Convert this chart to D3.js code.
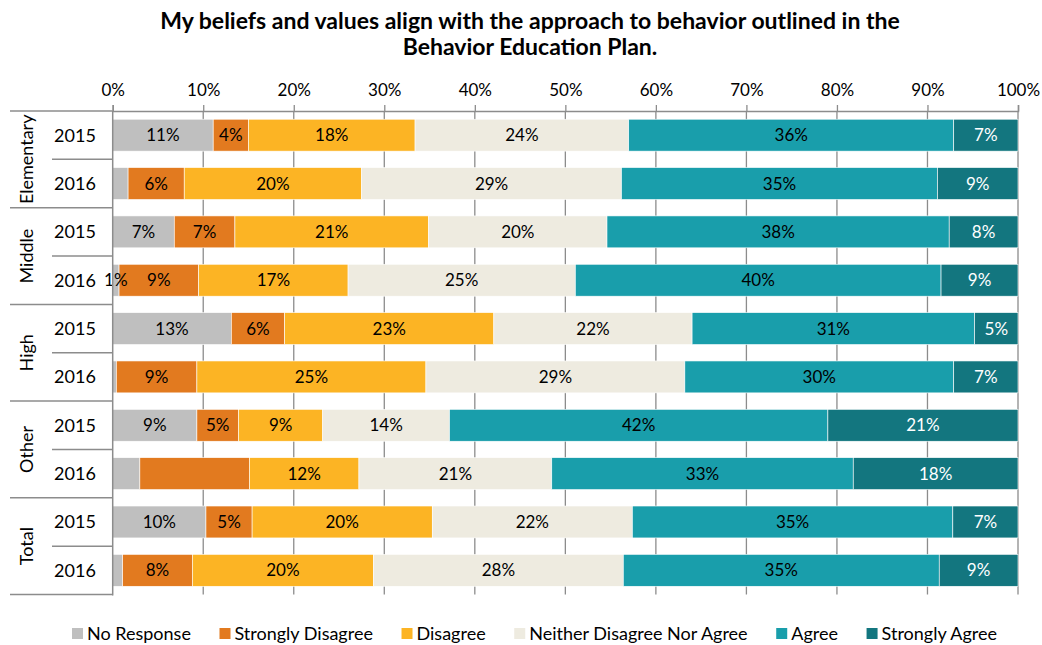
<!DOCTYPE html>
<html lang="en">
<head>
  <meta charset="UTF-8">
  <title>Behavior Education Plan</title>
  <script src="https://d3js.org/d3.v7.min.js"></script>
  <style>
    body { margin: 0; background: #fff; }
    text { font-family: Lato, "Open Sans", sans-serif; fill: #000; }
  </style>
</head>
<body>
<div id="chart"></div>
<script>
// rows: school level x year
const groups = ["Elementary", "Middle", "High", "Other", "Total"];
const years = ["2015", "2016"];
const seriesNames = ["No Response", "Strongly Disagree", "Disagree", "Neither Disagree Nor Agree", "Agree", "Strongly Agree"];
const ticks = ["0%", "10%", "20%", "30%", "40%", "50%", "60%", "70%", "80%", "90%", "100%"];

// percent per row (Elem 15, Elem 16, Middle 15, ... Total 16)
const noResponse       = [11.1, 1.7, 6.8, 0.7, 13.1, 0.4, 9.3, 3.0, 10.3, 1.1];
const stronglyDisagree = [3.9, 6.2, 6.7, 8.8, 5.9, 8.9, 4.6, 12.1, 5.1, 7.7];
const disagree         = [18.4, 19.6, 21.4, 16.5, 23.1, 25.3, 9.3, 12.1, 19.9, 20.0];
const neither          = [23.6, 28.7, 19.7, 25.1, 21.9, 28.6, 14.0, 21.3, 22.1, 27.6];
const agree            = [35.9, 34.9, 37.8, 40.4, 31.2, 29.7, 41.8, 33.3, 35.4, 34.9];
const stronglyAgree    = [7.1, 8.9, 7.6, 8.5, 4.8, 7.1, 21.0, 18.2, 7.2, 8.7];

// labels that the original chart leaves out: [row, series]
const hiddenLabels = [[1, 0], [5, 0], [7, 0], [7, 1], [9, 0]];

const colors = ["#bfbfbf", "#e27a1f", "#fcb424", "#eeebe0", "#199eab", "#13767f"];
const labelColors = ["#000", "#000", "#000", "#000", "#000", "#fff"];

const W = 1042, H = 645;
const x0 = 112.7, x1 = 1018, plotTop = 111, plotBottom = 594.5;

const allSeries = [noResponse, stronglyDisagree, disagree, neither, agree, stronglyAgree];
const rows = [];
groups.forEach((g, gi) => years.forEach((yr, yi) => {
  const i = gi * 2 + yi;
  const r = { key: g + "-" + yr, group: g, year: yr, idx: i };
  seriesNames.forEach((s, si) => r[s] = allSeries[si][i]);
  rows.push(r);
}));

const svg = d3.select("#chart").append("svg")
  .attr("width", W)
  .attr("height", H);

const x = d3.scaleLinear().domain([0, 100]).range([x0, x1]);
const y = d3.scaleBand()
  .domain(rows.map(r => r.key))
  .range([plotTop, plotBottom])
  .paddingInner(0.34)
  .paddingOuter(0.17);

// title, sized so the first line is as wide as in the original
const title1 = svg.append("text")
  .attr("x", 530).attr("y", 29)
  .attr("text-anchor", "middle")
  .style("font-size", "20px").style("font-weight", "bold")
  .text("My beliefs and values align with the approach to behavior outlined in the");
const tSize = Math.min(23, 20 * 751 / title1.node().getComputedTextLength());
title1.style("font-size", tSize + "px");
svg.append("text")
  .attr("x", 530).attr("y", 55)
  .attr("text-anchor", "middle")
  .style("font-size", tSize + "px").style("font-weight", "bold")
  .text("Behavior Education Plan.");

// gridlines
svg.append("g").selectAll("line")
  .data(d3.range(10, 101, 10))
  .join("line")
    .attr("x1", d => x(d)).attr("x2", d => x(d))
    .attr("y1", plotTop).attr("y2", plotBottom)
    .attr("stroke", "#8c8c8c").attr("stroke-width", 1.3);

// top axis
const xAxis = d3.axisTop(x)
  .tickValues(d3.range(0, 101, 10))
  .tickFormat((d, i) => ticks[i])
  .tickSize(6)
  .tickPadding(9);
const xAxisGroup = svg.append("g")
  .attr("transform", `translate(0, ${plotTop})`)
  .call(xAxis);
xAxisGroup.select(".domain").attr("stroke", "#8c8c8c").attr("stroke-width", 1.5);
xAxisGroup.selectAll(".tick line").attr("stroke", "#8c8c8c").attr("stroke-width", 1.3);
xAxisGroup.selectAll(".tick text")
  .style("font-size", "17px")
  .style("font-family", "Lato, 'Open Sans', sans-serif")
  .attr("fill", "#000");

// stacked bars
const stack = d3.stack().keys(seriesNames);
const stacked = stack(rows);

const layers = svg.append("g").selectAll("g")
  .data(stacked)
  .join("g")
    .attr("fill", (d, i) => colors[i]);

layers.selectAll("rect")
  .data(d => d)
  .join("rect")
    .attr("x", d => x(d[0]))
    .attr("width", d => x(d[1]) - x(d[0]))
    .attr("y", d => y(d.data.key))
    .attr("height", y.bandwidth())
    .attr("stroke", "#fff")
    .attr("stroke-width", 0.6);

// segment labels
const isHidden = (ri, si) => hiddenLabels.some(h => h[0] === ri && h[1] === si);
stacked.forEach((layer, si) => {
  svg.append("g").selectAll("text")
    .data(layer.filter(d => !isHidden(d.data.idx, si)))
    .join("text")
      .attr("x", d => x((d[0] + d[1]) / 2))
      .attr("y", d => y(d.data.key) + y.bandwidth() / 2)
      .attr("dy", "0.36em")
      .attr("text-anchor", "middle")
      .style("font-size", "17px")
      .style("fill", labelColors[si])
      .text(d => Math.round(d[1] - d[0]) + "%");
});

// left axis with grouped categories
const left = svg.append("g");
const lineColor = "#8c8c8c";
left.append("line")
  .attr("x1", x0).attr("x2", x0)
  .attr("y1", plotTop).attr("y2", plotBottom + 1)
  .attr("stroke", lineColor).attr("stroke-width", 1.5);

const step = y.step();
const groupTop = gi => plotTop + gi * 2 * step;
// group boundaries
left.selectAll(".gline")
  .data(d3.range(groups.length + 1))
  .join("line")
    .attr("class", "gline")
    .attr("x1", 10).attr("x2", x0)
    .attr("y1", d => groupTop(d)).attr("y2", d => groupTop(d))
    .attr("stroke", lineColor).attr("stroke-width", 1.5);
// year boundaries
left.selectAll(".yline")
  .data(groups)
  .join("line")
    .attr("class", "yline")
    .attr("x1", 52).attr("x2", x0)
    .attr("y1", (d, gi) => groupTop(gi) + step)
    .attr("y2", (d, gi) => groupTop(gi) + step)
    .attr("stroke", lineColor).attr("stroke-width", 1.5);

// year labels
left.selectAll(".ylab")
  .data(rows)
  .join("text")
    .attr("class", "ylab")
    .attr("x", 75)
    .attr("y", d => y(d.key) + y.bandwidth() / 2)
    .attr("dy", "0.36em")
    .attr("text-anchor", "middle")
    .style("font-size", "18px")
    .text(d => d.year);

// group labels (rotated)
left.selectAll(".glab")
  .data(groups)
  .join("text")
    .attr("class", "glab")
    .attr("transform", (d, gi) => `translate(27, ${groupTop(gi) + step}) rotate(-90)`)
    .attr("dy", "0.36em")
    .attr("text-anchor", "middle")
    .style("font-size", "18px")
    .text(d => d);

// legend
const legend = svg.append("g").attr("transform", "translate(0, 634)");
const items = legend.selectAll("g")
  .data(seriesNames)
  .join("g");
items.append("rect")
  .attr("y", -6).attr("width", 11).attr("height", 11)
  .attr("fill", (d, i) => colors[i]);
items.append("text")
  .attr("x", 15)
  .attr("dy", "0.36em")
  .style("font-size", "18px")
  .text(d => d);
let widths = [];
items.each(function() { widths.push(15 + d3.select(this).select("text").node().getComputedTextLength()); });
const gap = 20;
const span = 925;
const extra = (span - d3.sum(widths) - gap * (widths.length - 1)) / (widths.length - 1);
let cx = 72;
items.attr("transform", (d, i) => {
  const t = `translate(${cx}, 0)`;
  cx += widths[i] + gap + Math.max(0, extra);
  return t;
});
</script>
</body>
</html>
